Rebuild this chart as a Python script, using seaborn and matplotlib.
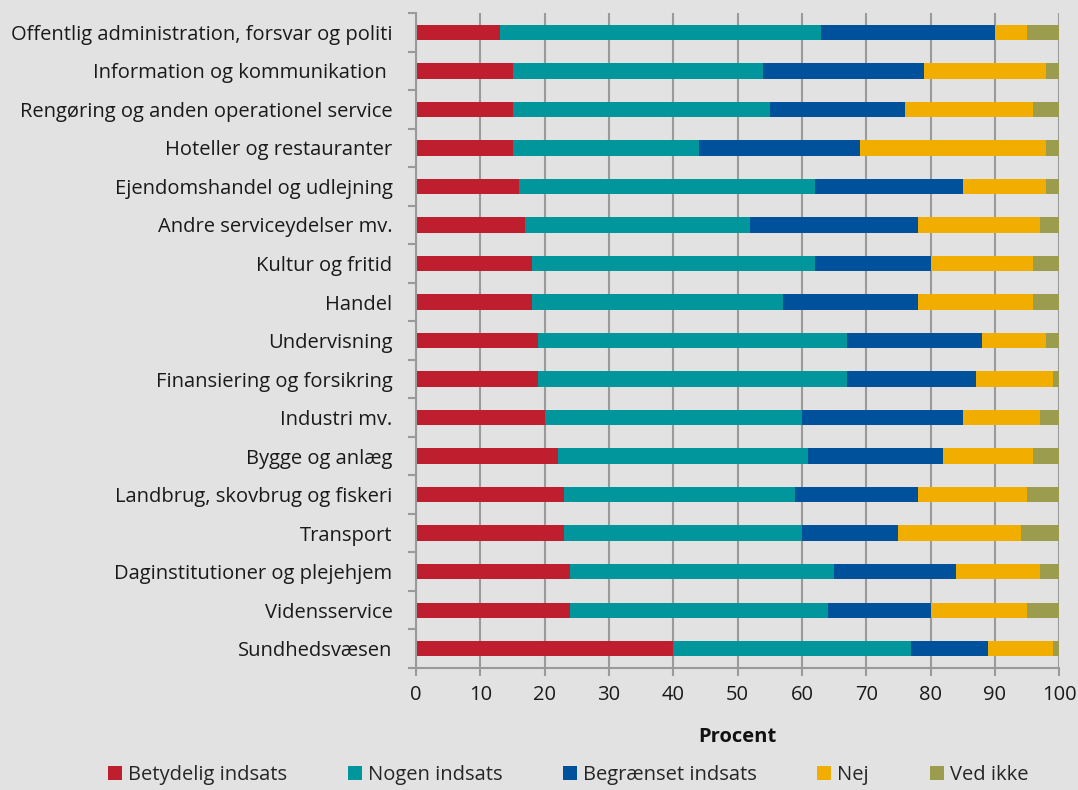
import matplotlib
matplotlib.use("Agg")
import matplotlib.pyplot as plt
import numpy as np
import pandas as pd
import seaborn as sns
from matplotlib.patches import Patch
from matplotlib.ticker import FixedLocator

categories = [
    "Offentlig administration, forsvar og politi",
    "Information og kommunikation ",
    "Rengøring og anden operationel service",
    "Hoteller og restauranter",
    "Ejendomshandel og udlejning",
    "Andre serviceydelser mv.",
    "Kultur og fritid",
    "Handel",
    "Undervisning",
    "Finansiering og forsikring",
    "Industri mv.",
    "Bygge og anlæg",
    "Landbrug, skovbrug og fiskeri",
    "Transport",
    "Daginstitutioner og plejehjem",
    "Vidensservice",
    "Sundhedsvæsen",
]

betydelig = [13, 15, 15, 15, 16, 17, 18, 18, 19, 19, 20, 22, 23, 23, 24, 24, 40]
nogen = [50, 39, 40, 29, 46, 35, 44, 39, 48, 48, 40, 39, 36, 37, 41, 40, 37]
begraenset = [27, 25, 21, 25, 23, 26, 18, 21, 21, 20, 25, 21, 19, 15, 19, 16, 12]
nej = [5, 19, 20, 29, 13, 19, 16, 18, 10, 12, 12, 14, 17, 19, 13, 15, 10]
ved_ikke = [5, 2, 4, 2, 2, 3, 4, 4, 2, 1, 3, 4, 5, 6, 3, 5, 1]

series_names = ["Betydelig indsats", "Nogen indsats", "Begrænset indsats", "Nej", "Ved ikke"]
colors = ["#be1e2d", "#00969b", "#00519c", "#f2ae00", "#9c9c4e"]
x_ticks = [0, 10, 20, 30, 40, 50, 60, 70, 80, 90, 100]

bg = "#e2e2e2"
fs = 14.5
sns.set_theme(style="white")
plt.rcParams["font.family"] = ["Open Sans", "DejaVu Sans"]

df = pd.DataFrame({
    "kategori": categories,
    series_names[0]: betydelig,
    series_names[1]: nogen,
    series_names[2]: begraenset,
    series_names[3]: nej,
    series_names[4]: ved_ikke,
})
cum = df[series_names].cumsum(axis=1)

fig = plt.figure(figsize=(10.78, 7.9), dpi=100, facecolor=bg)
ax = fig.add_axes([0.386, 0.1544, 0.5965, 0.829])
ax.set_facecolor(bg)

# stacked bars: draw cumulative totals from the outermost segment inward
for name, col in reversed(list(zip(series_names, colors))):
    sns.barplot(x=cum[name], y=df["kategori"], color=col, width=0.4,
                orient="h", ax=ax, saturation=1, linewidth=0)

ax.set_xlim(0, 100)
ax.set_ylim(len(categories) - 0.5, -0.5)
ax.xaxis.set_major_locator(FixedLocator(x_ticks))
ax.set_xticklabels([str(t) for t in x_ticks])
ax.grid(axis="x", color="#9a9a9a", linewidth=1.5, zorder=0)
ax.set_axisbelow(True)

for s in ["top", "right"]:
    ax.spines[s].set_visible(False)
for s in ["left", "bottom"]:
    ax.spines[s].set_color("#9a9a9a")
    ax.spines[s].set_linewidth(1.5)

# y ticks between categories, labels centred on bars
ax.yaxis.set_minor_locator(FixedLocator(np.arange(-0.5, len(categories), 1.0)))
ax.tick_params(axis="y", which="major", length=0, labelsize=fs, pad=17, colors="#1a1a1a")
ax.tick_params(axis="y", which="minor", length=6, width=1.5, color="#9a9a9a", left=True)
ax.tick_params(axis="x", which="major", length=6, width=1.5, color="#9a9a9a",
               bottom=True, labelsize=fs, pad=6, labelcolor="#1a1a1a")
ax.set_ylabel("")
ax.set_xlabel("Procent", fontsize=fs, fontweight="bold", labelpad=16, color="#111111")

handles = [Patch(facecolor=c, edgecolor="none", label=n) for n, c in zip(series_names, colors)]
fig.legend(handles=handles, loc="center", bbox_to_anchor=(0.527, 0.019), ncol=5,
           frameon=False, fontsize=fs, handlelength=0.7, handleheight=0.7,
           handletextpad=0.3, columnspacing=3.0)

fig.savefig("out.png", dpi=100, facecolor=bg)
